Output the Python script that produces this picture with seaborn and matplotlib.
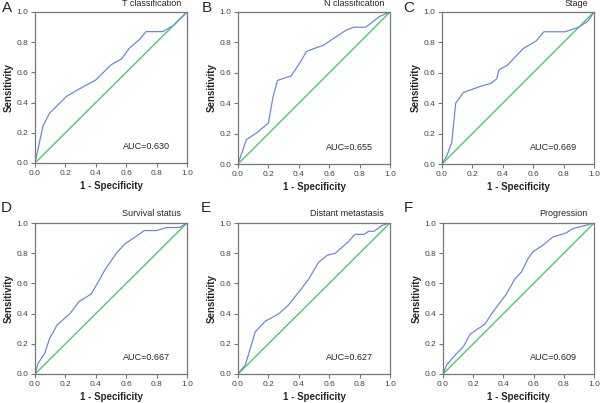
import matplotlib
matplotlib.use('Agg')
import matplotlib.pyplot as plt
import pandas as pd
import seaborn as sns

letters = ['A', 'B', 'C', 'D', 'E', 'F']
titles = ['T classification', 'N classification', 'Stage',
          'Survival status', 'Distant metastasis', 'Progression']
aucs = ['0.630', '0.655', '0.669', '0.667', '0.627', '0.609']

fpr_a = [0, 0.053, 0.096, 0.206, 0.29, 0.40, 0.50, 0.57, 0.62, 0.69, 0.73, 0.84, 0.91, 1.0]
tpr_a = [0, 0.246, 0.33, 0.44, 0.49, 0.55, 0.65, 0.69, 0.76, 0.82, 0.87, 0.87, 0.91, 1.0]

fpr_b = [0, 0.055, 0.13, 0.20, 0.23, 0.26, 0.35, 0.41, 0.45, 0.50, 0.56, 0.65, 0.71, 0.76, 0.84, 0.93, 1.0]
tpr_b = [0, 0.16, 0.21, 0.27, 0.44, 0.55, 0.58, 0.67, 0.74, 0.76, 0.78, 0.84, 0.88, 0.90, 0.90, 0.97, 1.0]

fpr_c = [0, 0.03, 0.064, 0.09, 0.14, 0.25, 0.32, 0.36, 0.375, 0.43, 0.535, 0.62, 0.67, 0.81, 0.90, 0.96, 1.0]
tpr_c = [0, 0.05, 0.14, 0.40, 0.47, 0.51, 0.53, 0.56, 0.62, 0.65, 0.76, 0.81, 0.87, 0.87, 0.90, 0.94, 1.0]

fpr_d = [0, 0.02, 0.064, 0.096, 0.145, 0.23, 0.29, 0.37, 0.425, 0.46, 0.535, 0.59, 0.72, 0.80, 0.865, 0.95, 1.0]
tpr_d = [0, 0.07, 0.137, 0.236, 0.324, 0.40, 0.48, 0.53, 0.626, 0.69, 0.80, 0.86, 0.95, 0.95, 0.97, 0.97, 1.0]

fpr_e = [0, 0.048, 0.114, 0.18, 0.27, 0.33, 0.41, 0.466, 0.53, 0.587, 0.64, 0.72, 0.77, 0.83, 0.86, 0.895, 0.95, 1.0]
tpr_e = [0, 0.06, 0.28, 0.35, 0.40, 0.455, 0.555, 0.63, 0.74, 0.786, 0.80, 0.87, 0.925, 0.925, 0.945, 0.945, 0.985, 1.0]

fpr_f = [0, 0.024, 0.08, 0.134, 0.18, 0.277, 0.33, 0.42, 0.475, 0.52, 0.563, 0.596, 0.66, 0.727, 0.815, 0.86, 0.947, 1.0]
tpr_f = [0, 0.06, 0.125, 0.18, 0.264, 0.33, 0.41, 0.53, 0.628, 0.676, 0.764, 0.81, 0.852, 0.907, 0.934, 0.963, 0.985, 1.0]

curves = [(fpr_a, tpr_a), (fpr_b, tpr_b), (fpr_c, tpr_c),
          (fpr_d, tpr_d), (fpr_e, tpr_e), (fpr_f, tpr_f)]

# axes boxes in pixels (left, top, right, bottom)
W, H = 600, 403
boxes = [(35, 12, 187, 163), (238, 12, 390, 164), (442, 12, 594, 164),
         (35, 223, 187, 374), (238, 223, 390, 374), (443, 223, 594, 374)]
# panel letter positions (left edge, vertical centre) in pixels
letter_px = [(2, 8), (202, 8), (403, 8), (1, 208), (201, 208), (404, 208)]
title_y = [1.053, 1.053, 1.053, 1.06, 1.06, 1.06]

sns.set_style('white')
plt.rcParams['font.family'] = ['Liberation Sans', 'DejaVu Sans']

fig = plt.figure(figsize=(6, 4.03), dpi=100)
for i, (l, t, r, b) in enumerate(boxes):
    ax = fig.add_axes([l / W, 1 - b / H, (r - l) / W, (b - t) / H])
    fpr, tpr = curves[i]
    df = pd.DataFrame({'fpr': fpr, 'tpr': tpr})
    ax.plot([0, 1], [0, 1], color='#2ecc5e', lw=0.9)
    sns.lineplot(data=df, x='fpr', y='tpr', sort=False, ax=ax,
                 color='#6a8ad8', lw=0.9)
    ax.set_xlim(0, 1)
    ax.set_ylim(0, 1)
    ax.set_xticks([0, 0.2, 0.4, 0.6, 0.8, 1.0])
    ax.set_yticks([0, 0.2, 0.4, 0.6, 0.8, 1.0])
    ax.set_xticklabels(['0.0', '0.2', '0.4', '0.6', '0.8', '1.0'])
    ax.set_yticklabels(['0.0', '0.2', '0.4', '0.6', '0.8', '1.0'])
    ax.tick_params(axis='both', direction='out', length=3, width=0.8,
                   color='#777777', labelcolor='#444444', labelsize=6, pad=2,
                   bottom=True, left=True)
    for s in ax.spines.values():
        s.set_color('#777777')
        s.set_linewidth(0.9)
    ax.set_xlabel('1 - Specificity', fontsize=7, fontweight='bold', labelpad=3)
    ax.set_ylabel('Sensitivity', fontsize=7, fontweight='bold', labelpad=2)
    ax.text(0.96, title_y[i], titles[i], transform=ax.transAxes, ha='right',
            va='center', fontsize=6.5)
    ax.text(0.89, 0.11, 'AUC=' + aucs[i], transform=ax.transAxes, ha='right',
            va='center', fontsize=6.5)
    lx, ly = letter_px[i]
    fig.text(lx / W, 1 - ly / H, letters[i], ha='left', va='center',
             fontsize=11)

plt.savefig('out.png', dpi=100)
